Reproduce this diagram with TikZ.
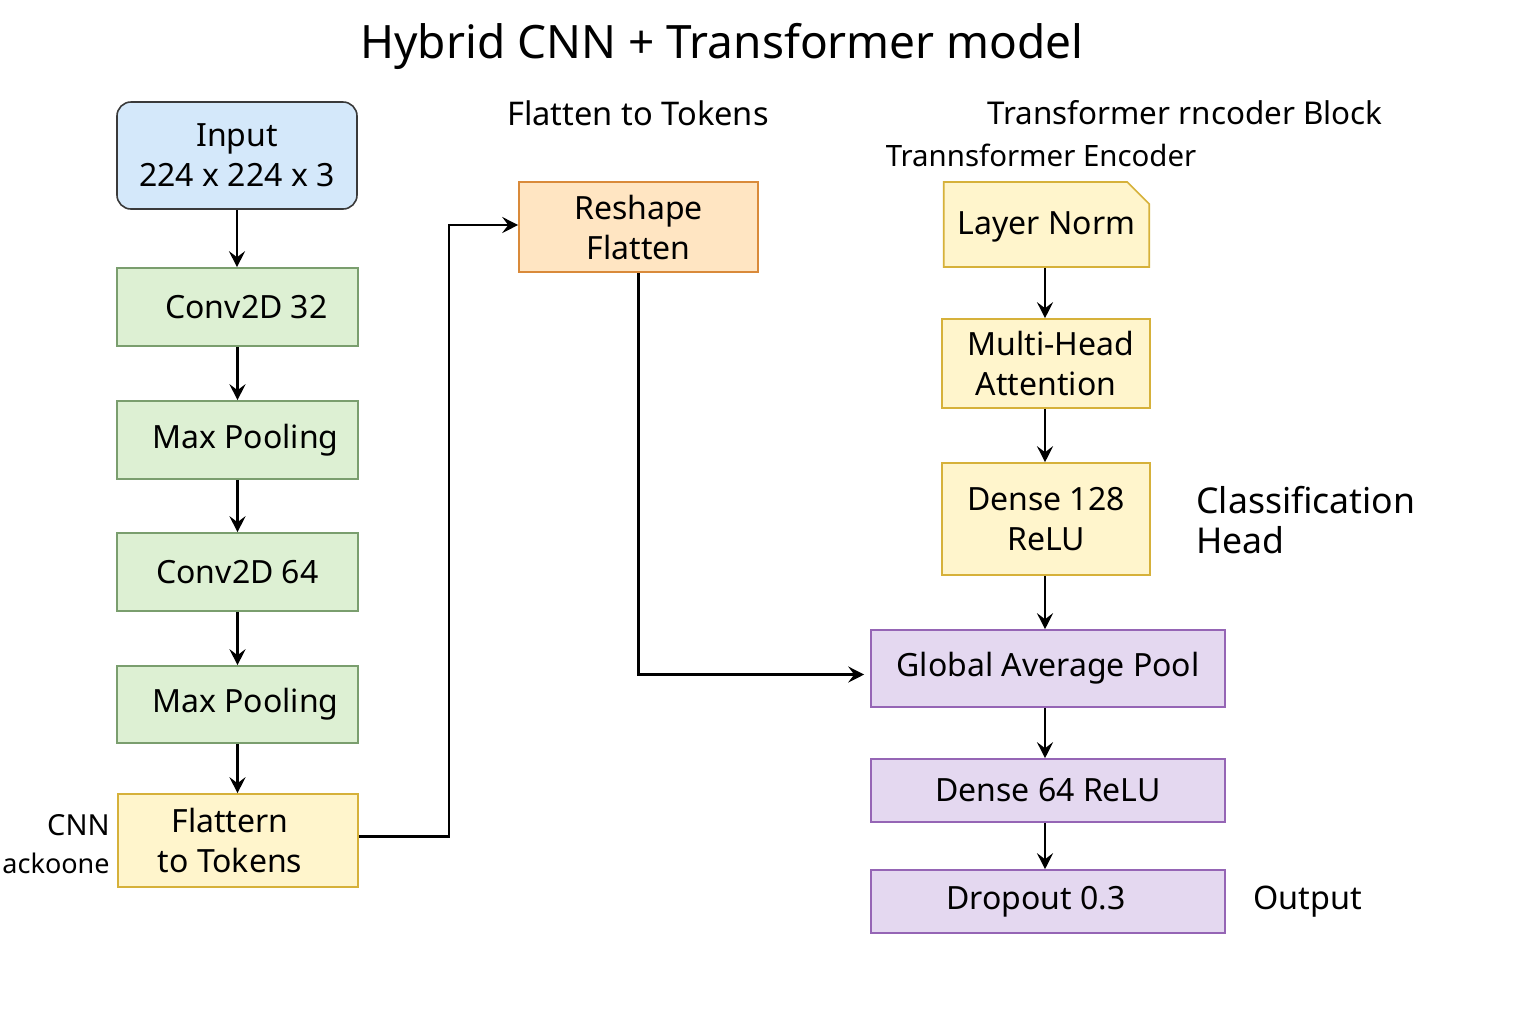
\documentclass[tikz,border=0pt]{standalone}
\usepackage{fontspec}
\setmainfont{Noto Sans}
\usetikzlibrary{arrows.meta,shapes.misc}
\definecolor{bluefill}{HTML}{D4E8FA}
\definecolor{blueline}{HTML}{3A3A3A}
\definecolor{greenfill}{HTML}{DDF0D3}
\definecolor{greenline}{HTML}{7A9E6E}
\definecolor{yelfill}{HTML}{FFF5CC}
\definecolor{yelline}{HTML}{D6B13A}
\definecolor{orfill}{HTML}{FFE5C2}
\definecolor{orline}{HTML}{D98A3A}
\definecolor{purfill}{HTML}{E4D8F0}
\definecolor{purline}{HTML}{9565B5}
\tikzset{
  box/.style={rectangle, line width=0.8pt, align=center, inner sep=2pt,
    font=\fontsize{16}{20}\selectfont},
  bluebox/.style={box, fill=bluefill, draw=blueline, rounded corners=7pt},
  greenbox/.style={box, fill=greenfill, draw=greenline},
  yelbox/.style={box, fill=yelfill, draw=yelline},
  orbox/.style={box, fill=orfill, draw=orline},
  purbox/.style={box, fill=purfill, draw=purline},
  lbl/.style={font=\fontsize{17.8}{20}\selectfont, inner sep=0pt},
  arr/.style={line width=1.1pt, -{Stealth[length=8pt,width=8pt,inset=3pt]}},
}
\begin{document}
\begin{tikzpicture}[x=0.5pt,y=-0.5pt]
\useasboundingbox (0,0) rectangle (1536,1024);
\fill[white] (0,0) rectangle (1536,1024);

% title and headings
\node[font=\fontsize{23}{27}\selectfont, inner sep=0pt] (title) at (722,46) {Hybrid CNN + Transformer model};
\node[font=\fontsize{16.3}{19}\selectfont, inner sep=0pt] (hflat) at (638,113) {Flatten to Tokens};
\node[font=\fontsize{15.7}{19}\selectfont, inner sep=0pt] (hblock) at (1185,113) {Transformer rncoder Block};
\node[font=\fontsize{14.7}{18}\selectfont, inner sep=0pt] (henc) at (1041,155) {Trannsformer Encoder};

% CNN column
\node[bluebox, minimum width=120pt, minimum height=53.5pt] (input) at (237,155.5) {Input\\224 x 224 x 3};
\node[greenbox, minimum width=120.5pt, minimum height=39pt] (conv1) at (237.5,307) {\hspace*{9pt}Conv2D 32};
\node[greenbox, minimum width=120.5pt, minimum height=39pt] (pool1) at (237.5,440) {\hspace*{8pt}Max Pooling};
\node[greenbox, minimum width=120.5pt, minimum height=39pt] (conv2) at (237.5,572) {Conv2D 64};
\node[greenbox, minimum width=120.5pt, minimum height=38.5pt] (pool2) at (237.5,704.5) {\hspace*{8pt}Max Pooling};
\node[yelbox, minimum width=120pt, minimum height=46.5pt] (flat) at (238,840.5) {\hspace*{-8pt}Flattern\\\hspace*{-8pt}to Tokens};
\node[font=\fontsize{14.5}{19}\selectfont, inner sep=0pt, align=right, anchor=east] (cnnlbl) at (110,844) {CNN\\{\fontsize{13.5}{19}\selectfont ackoone}};

% middle
\node[orbox, minimum width=119.5pt, minimum height=45pt] (reshape) at (638.5,227) {Reshape\\Flatten};

% transformer column
\node[yelbox, chamfered rectangle, chamfered rectangle corners=north east,
  chamfered rectangle xsep=5pt, chamfered rectangle ysep=6pt,
  minimum width=98.5pt, minimum height=42.5pt, text height=14pt] (ln) at (1046.5,224.5) {Layer Norm};
\node[yelbox, minimum width=104pt, minimum height=44.5pt] (mha) at (1046,363.5) {\hspace*{5pt}Multi-Head\\Attention};
\node[yelbox, minimum width=104pt, minimum height=56pt] (d128) at (1046,519) {Dense 128\\ReLU};
\node[lbl, align=left, anchor=west] (cls) at (1196,520) {Classification\\Head};

\node[purbox, minimum width=177pt, minimum height=38.5pt] (gap) at (1048,668.5) {Global Average Pool};
\node[purbox, minimum width=177pt, minimum height=31.5pt] (d64) at (1048,790.5) {Dense 64 ReLU};
\node[purbox, minimum width=177pt, minimum height=31.5pt] (drop) at (1048,901.5) {\hspace*{-12pt}Dropout 0.3};
\node[font=\fontsize{16.2}{19}\selectfont, inner sep=0pt, anchor=west] (out) at (1253,902) {Output};

% connectors
\draw[arr] (input.south) -- (input.south |- conv1.north);
\draw[arr] (conv1.south) -- (conv1.south |- pool1.north);
\draw[arr] (pool1.south) -- (pool1.south |- conv2.north);
\draw[arr] (conv2.south) -- (conv2.south |- pool2.north);
\draw[arr] (pool2.south) -- (pool2.south |- flat.north);

\coordinate (j1) at (449,500);
\draw[arr] ([yshift=2pt]flat.east) -| (j1) |- ([yshift=1pt]reshape.west);
\draw[arr, shorten >=3pt] (reshape.south) |- ([yshift=-3pt]gap.west);

\coordinate (tc) at (1045,0);
\draw[arr] (tc |- ln.south) -- (tc |- mha.north);
\draw[arr] (tc |- mha.south) -- (tc |- d128.north);
\draw[arr] (tc |- d128.south) -- (tc |- gap.north);
\draw[arr] (tc |- gap.south) -- (tc |- d64.north);
\draw[arr] (tc |- d64.south) -- (tc |- drop.north);
\end{tikzpicture}
\end{document}
